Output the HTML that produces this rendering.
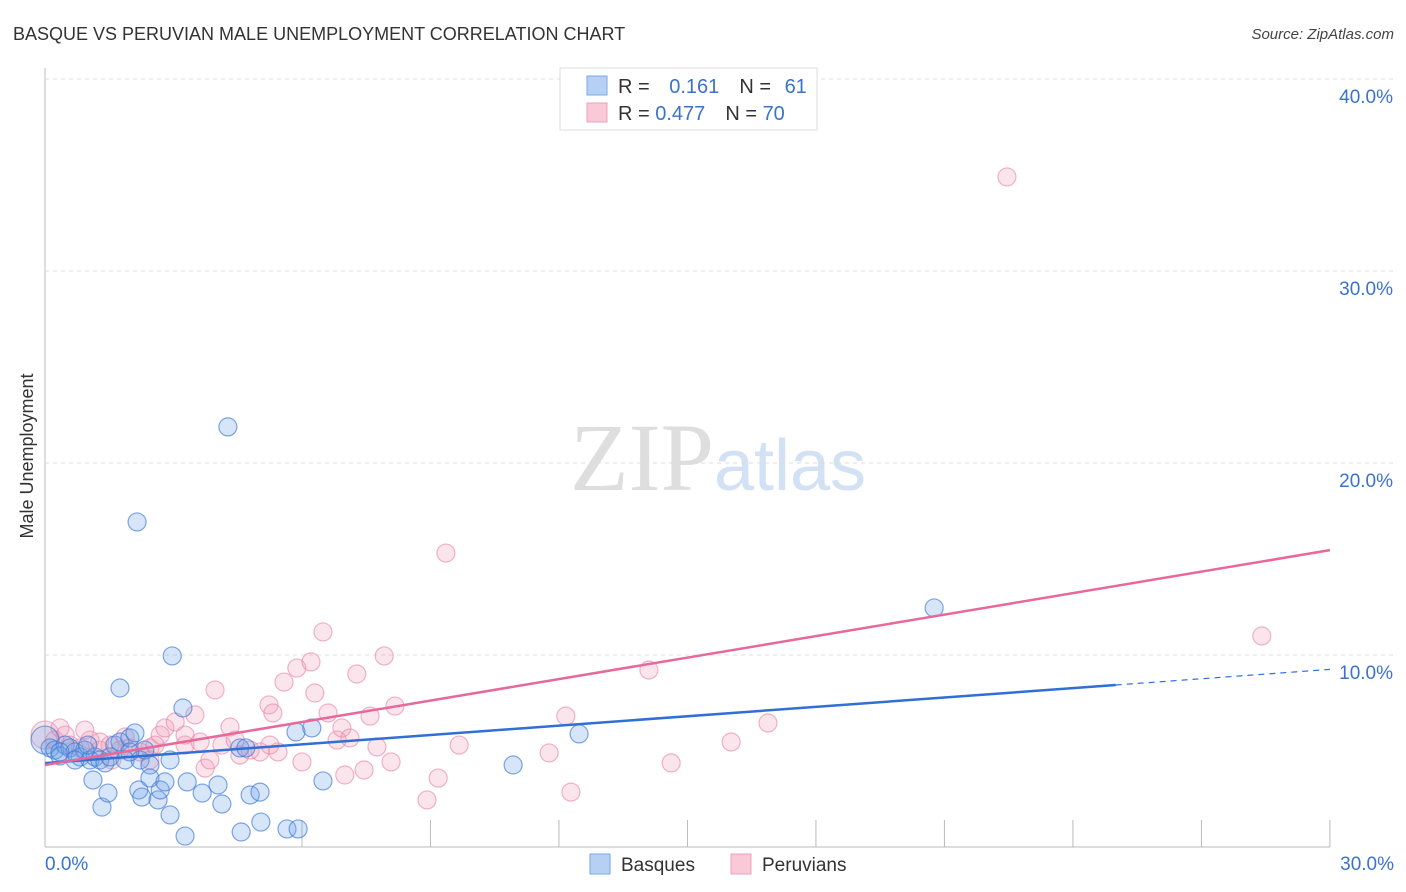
<!DOCTYPE html>
<html><head><meta charset="utf-8"><style>
body{margin:0;background:#fff;font-family:"Liberation Sans",sans-serif;}
</style></head><body>
<svg id="chart" width="1406" height="892" xmlns="http://www.w3.org/2000/svg" style="display:block">
<text x="13" y="40" font-size="18" fill="#333">BASQUE VS PERUVIAN MALE UNEMPLOYMENT CORRELATION CHART</text>
<text x="1394" y="39" font-size="15" fill="#444" text-anchor="end" font-style="italic">Source: ZipAtlas.com</text>
<text x="718" y="490" font-size="96" text-anchor="middle"><tspan fill="#dedede" font-family="Liberation Serif">ZIP</tspan><tspan fill="#d3e1f5" font-size="72">atlas</tspan></text>
<text transform="translate(33,456) rotate(-90)" font-size="18" fill="#333" text-anchor="middle">Male Unemployment</text>
<g id="grid"></g><g id="pts"></g><g id="lines"></g>
<g>
<rect x="560" y="68" width="257" height="62" fill="#fff" stroke="#ddd"/>
<rect x="587" y="76" width="20" height="19" fill="#b5d0f3" stroke="#7aa7e6"/>
<rect x="587" y="103" width="20" height="19" fill="#f9c9d7" stroke="#eda0b8"/>
<text x="618" y="93" font-size="20" fill="#333">R = <tspan fill="#3a72d0" dx="14">0.161</tspan><tspan dx="20" fill="#333">N = </tspan><tspan fill="#3a72d0" dx="8">61</tspan></text>
<text x="618" y="120" font-size="20" fill="#333">R = <tspan fill="#3a72d0">0.477</tspan><tspan dx="20" fill="#333">N = </tspan><tspan fill="#3a72d0">70</tspan></text>
</g>
<g>
<rect x="590" y="854" width="20" height="20" fill="#b5d0f3" stroke="#7aa7e6"/>
<text x="621" y="871" font-size="19" fill="#333">Basques</text>
<rect x="731" y="854" width="20" height="20" fill="#f9c9d7" stroke="#eda0b8"/>
<text x="762" y="871" font-size="19" fill="#333">Peruvians</text>
</g>
</svg>
<script>
const yTicks=[10,20,30,40];
const yTickLabels=["10.0%","20.0%","30.0%","40.0%"];
const xTicks=[6,9,12,15,18,21,24,27,30];
const xEndLabels=["0.0%","30.0%"];
const basqueX=[0,.12,.23,.35,.47,.58,.70,.82,.93,1.05,1.17,1.28,1.40,1.52,1.63,1.75,1.87,1.98,2.10,2.22,2.33,2.45,1.12,1.33,1.47,1.75,2.15,2.97,3.22,4.27,2.19,2.26,2.45,2.64,2.69,2.80,2.92,3.27,3.32,3.67,4.04,4.13,4.58,4.79,5.02,5.04,5.65,5.91,4.55,4.69,5.86,6.23,6.49,10.93,12.47,20.76,2.92,1.98,.35,.70,1.00];
const basqueY=[5.57,5.16,5.05,4.74,5.31,5.16,4.95,4.69,5.05,4.53,4.69,4.53,4.38,4.69,5.31,5.47,4.53,5.68,5.94,4.53,5.05,4.27,3.49,2.08,2.81,8.28,16.93,9.95,7.24,21.88,2.97,2.60,3.59,2.45,2.97,3.39,1.67,0.57,3.39,2.81,3.23,2.24,0.78,2.71,2.86,1.30,0.94,0.94,5.16,5.16,5.99,6.20,3.44,4.27,5.89,12.45,4.53,4.95,4.95,4.53,5.31];
const peruX=[0,.23,.47,.58,.82,1.05,1.28,1.52,1.75,1.98,2.22,2.45,2.69,2.80,3.04,3.27,3.50,3.74,3.97,4.13,4.32,4.55,4.79,5.02,5.23,5.32,5.44,5.58,5.88,6.00,6.21,6.30,6.49,6.61,6.82,6.93,7.00,7.12,7.28,7.45,7.59,7.75,7.92,8.08,8.17,8.92,9.18,9.36,9.67,11.77,12.16,12.28,14.10,14.62,16.02,16.88,22.46,28.41,1.56,2.45,1.28,.35,.93,1.87,5.25,3.62,3.27,3.85,2.57,4.44];
const peruY=[5.83,5.57,5.83,5.31,5.16,5.57,5.05,5.31,5.05,5.16,4.95,5.16,5.83,6.20,6.51,5.31,6.88,4.11,8.18,5.31,6.25,4.79,5.05,4.95,7.40,6.98,4.95,8.59,9.32,4.43,9.64,8.02,11.20,6.98,5.57,6.20,3.75,5.68,9.01,4.01,6.82,5.21,9.95,4.43,7.34,2.45,3.59,15.31,5.31,4.90,6.82,2.86,9.22,4.38,5.47,6.46,34.90,10.99,4.53,4.53,5.47,6.20,6.09,5.73,5.31,5.47,5.83,4.53,5.31,5.57];
const blueLine=[4.37,0.1627];
const pinkLine=[4.27,0.373];
const X=v=>45+v*42.83, Y=v=>847-v*19.2;
const NS="http://www.w3.org/2000/svg";
function mk(t,a,p){const e=document.createElementNS(NS,t);for(const k in a)e.setAttribute(k,a[k]);p.appendChild(e);return e;}
const grid=document.getElementById('grid');
let ax=mk('line',{x1:45,y1:68,x2:45,y2:847,stroke:'#bbb'},grid);


let bx=mk('line',{x1:45,y1:847,x2:1330,y2:847,stroke:'#bbb'},grid);


yTicks.forEach((t,i)=>{
 const g=mk('line',{x1:45,x2:1394,y1:Y(t),y2:Y(t),stroke:'#ddd','stroke-dasharray':'4,4'},grid);
 
 
 const l=mk('text',{x:1393,y:Y(t)+24,'font-size':19,fill:'#3a72d0','text-anchor':'end'},grid);
 l.textContent=yTickLabels[i];
 
 
});
xTicks.forEach(t=>{
 const g=mk('line',{x1:X(t),x2:X(t),y1:820,y2:847,stroke:'#bbb'},grid);
 
 
});
[[0,'start',45],[30,'end',1394]].forEach((d,i)=>{
 const l=mk('text',{x:d[2],y:870,'font-size':19,fill:'#3a72d0','text-anchor':d[1]},grid);
 l.textContent=xEndLabels[i];
 
 
});
const pts=document.getElementById('pts');
function draw(xs,ys,fill,stroke,name){xs.forEach((x,i)=>{
 const c=mk('circle',{cx:X(x),cy:Y(ys[i]),r:(x===0?14:9),fill:fill,stroke:stroke,'stroke-width':1.2},pts);
 
 
});}
draw(peruX,peruY,'rgba(240,150,180,0.25)','rgba(232,130,165,0.6)','peruvian-point');
draw(basqueX,basqueY,'rgba(110,160,230,0.28)','rgba(60,120,215,0.65)','basque-point');
const lines=document.getElementById('lines');
let b1=mk('line',{x1:X(0),y1:Y(blueLine[0]),x2:X(25),y2:Y(blueLine[0]+25*blueLine[1]),stroke:'#2f6fd6','stroke-width':2.5},lines);


let b2=mk('line',{x1:X(25),y1:Y(blueLine[0]+25*blueLine[1]),x2:X(30),y2:Y(blueLine[0]+30*blueLine[1]),stroke:'#2f6fd6','stroke-width':1.2,'stroke-dasharray':'6,5'},lines);


let p1=mk('line',{x1:X(0),y1:Y(pinkLine[0]),x2:X(30),y2:Y(pinkLine[0]+30*pinkLine[1]),stroke:'#e8689a','stroke-width':2.5},lines);


</script>
</body></html>
